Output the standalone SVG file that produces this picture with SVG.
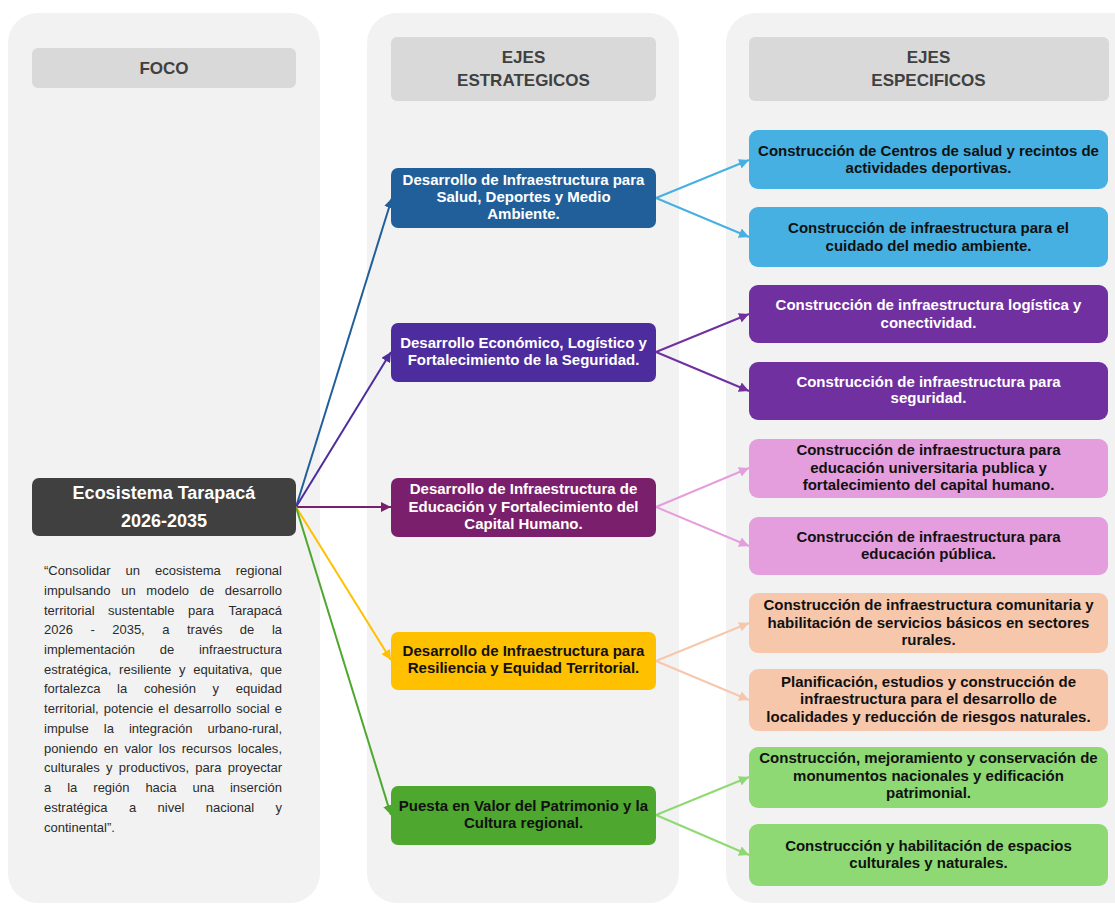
<svg xmlns="http://www.w3.org/2000/svg" width="1115" height="905" viewBox="0 0 1115 905">
<style>
.col{fill:#F2F2F2}
.hdr{fill:#D9D9D9}
.ht{font-family:"Liberation Sans",Arial,sans-serif;font-weight:bold;font-size:17px;fill:#404040;text-anchor:middle}
.bt{font-family:"Liberation Sans",Arial,sans-serif;font-weight:bold;font-size:15px;text-anchor:middle}
.w{fill:#FFFFFF}
.k{fill:#111111}
.p{font-family:"Liberation Sans",Arial,sans-serif;font-size:13px;fill:#2B2B2B}
.c{fill:none;stroke-width:2}
</style>
<defs>
<marker id="m1" viewBox="0 0 10 10" refX="10" refY="5" markerWidth="10" markerHeight="10" markerUnits="userSpaceOnUse" orient="auto"><path d="M0,0 L10,5 L0,10 z" fill="#215F9A"/></marker>
<marker id="m2" viewBox="0 0 10 10" refX="10" refY="5" markerWidth="10" markerHeight="10" markerUnits="userSpaceOnUse" orient="auto"><path d="M0,0 L10,5 L0,10 z" fill="#4D2C9E"/></marker>
<marker id="m3" viewBox="0 0 10 10" refX="10" refY="5" markerWidth="10" markerHeight="10" markerUnits="userSpaceOnUse" orient="auto"><path d="M0,0 L10,5 L0,10 z" fill="#7A1F6B"/></marker>
<marker id="m4" viewBox="0 0 10 10" refX="10" refY="5" markerWidth="10" markerHeight="10" markerUnits="userSpaceOnUse" orient="auto"><path d="M0,0 L10,5 L0,10 z" fill="#FFC000"/></marker>
<marker id="m5" viewBox="0 0 10 10" refX="10" refY="5" markerWidth="10" markerHeight="10" markerUnits="userSpaceOnUse" orient="auto"><path d="M0,0 L10,5 L0,10 z" fill="#4EA72E"/></marker>
<marker id="s1" viewBox="0 0 10 10" refX="10" refY="5" markerWidth="10" markerHeight="10" markerUnits="userSpaceOnUse" orient="auto"><path d="M0,0 L10,5 L0,10 z" fill="#45B0E1"/></marker>
<marker id="s2" viewBox="0 0 10 10" refX="10" refY="5" markerWidth="10" markerHeight="10" markerUnits="userSpaceOnUse" orient="auto"><path d="M0,0 L10,5 L0,10 z" fill="#7030A0"/></marker>
<marker id="s3" viewBox="0 0 10 10" refX="10" refY="5" markerWidth="10" markerHeight="10" markerUnits="userSpaceOnUse" orient="auto"><path d="M0,0 L10,5 L0,10 z" fill="#E59EDD"/></marker>
<marker id="s4" viewBox="0 0 10 10" refX="10" refY="5" markerWidth="10" markerHeight="10" markerUnits="userSpaceOnUse" orient="auto"><path d="M0,0 L10,5 L0,10 z" fill="#F7C7AC"/></marker>
<marker id="s5" viewBox="0 0 10 10" refX="10" refY="5" markerWidth="10" markerHeight="10" markerUnits="userSpaceOnUse" orient="auto"><path d="M0,0 L10,5 L0,10 z" fill="#8ED973"/></marker>
</defs>
<rect width="1115" height="905" fill="#FFFFFF"/>

<g id="columns">
<rect class="col" x="8" y="13" width="312" height="890" rx="30"/>
<rect class="col" x="367" y="13" width="312" height="890" rx="30"/>
<rect class="col" x="726" y="13" width="430" height="890" rx="30"/>
</g>

<g id="hdr-foco">
<rect class="hdr" x="32" y="48" width="264" height="40" rx="6"/>
<text class="ht" x="164" y="74">FOCO</text>
</g>
<g id="hdr-estrategicos">
<rect class="hdr" x="391" y="37" width="265" height="64" rx="6"/>
<text class="ht" x="523.5" y="63">EJES</text>
<text class="ht" x="523.5" y="86">ESTRATEGICOS</text>
</g>
<g id="hdr-especificos">
<rect class="hdr" x="749" y="37" width="360" height="64" rx="6"/>
<text class="ht" x="928.5" y="63">EJES</text>
<text class="ht" x="928.5" y="86">ESPECIFICOS</text>
</g>

<g id="connectors">
<line class="c" stroke="#215F9A" x1="296" y1="507" x2="392" y2="198" marker-end="url(#m1)"/>
<line class="c" stroke="#4D2C9E" x1="296" y1="507" x2="391" y2="352" marker-end="url(#m2)"/>
<line class="c" stroke="#7A1F6B" x1="296" y1="507" x2="391" y2="507" marker-end="url(#m3)"/>
<line class="c" stroke="#FFC000" x1="296" y1="507" x2="391" y2="660" marker-end="url(#m4)"/>
<line class="c" stroke="#4EA72E" x1="296" y1="507" x2="391" y2="815" marker-end="url(#m5)"/>
<line class="c" stroke="#45B0E1" x1="656" y1="198" x2="749" y2="160" marker-end="url(#s1)"/>
<line class="c" stroke="#45B0E1" x1="656" y1="198" x2="749" y2="237" marker-end="url(#s1)"/>
<line class="c" stroke="#7030A0" x1="656" y1="352" x2="749" y2="314" marker-end="url(#s2)"/>
<line class="c" stroke="#7030A0" x1="656" y1="352" x2="749" y2="391" marker-end="url(#s2)"/>
<line class="c" stroke="#E59EDD" x1="656" y1="507" x2="749" y2="468" marker-end="url(#s3)"/>
<line class="c" stroke="#E59EDD" x1="656" y1="507" x2="749" y2="546" marker-end="url(#s3)"/>
<line class="c" stroke="#F7C7AC" x1="656" y1="661" x2="749" y2="623" marker-end="url(#s4)"/>
<line class="c" stroke="#F7C7AC" x1="656" y1="661" x2="749" y2="700" marker-end="url(#s4)"/>
<line class="c" stroke="#8ED973" x1="656" y1="815" x2="749" y2="777" marker-end="url(#s5)"/>
<line class="c" stroke="#8ED973" x1="656" y1="815" x2="749" y2="855" marker-end="url(#s5)"/>
</g>

<g id="foco-node">
<rect x="32" y="478" width="264" height="58" rx="7" fill="#404040"/>
<text x="164" y="499" font-family="'Liberation Sans',Arial,sans-serif" font-weight="bold" font-size="18" fill="#FFFFFF" text-anchor="middle">Ecosistema Tarapacá</text>
<text x="164" y="527" font-family="'Liberation Sans',Arial,sans-serif" font-weight="bold" font-size="18" fill="#FFFFFF" text-anchor="middle">2026-2035</text>
</g>

<g id="foco-text" class="p">
<text y="575"><tspan x="44">“Consolidar</tspan><tspan x="125.5">un</tspan><tspan x="155">ecosistema</tspan><tspan x="282" text-anchor="end">regional</tspan></text>
<text y="594.7" x="44" word-spacing="7" textLength="238" lengthAdjust="spacing">impulsando un modelo de desarrollo</text>
<text y="614.5"><tspan x="44">territorial</tspan><tspan x="108">sustentable</tspan><tspan x="188">para</tspan><tspan x="282" text-anchor="end">Tarapacá</tspan></text>
<text y="634.2"><tspan x="44">2026</tspan><tspan x="90.4">-</tspan><tspan x="112.2">2035,</tspan><tspan x="162.2">a</tspan><tspan x="187">través</tspan><tspan x="239.8">de</tspan><tspan x="282" text-anchor="end">la</tspan></text>
<text y="654"><tspan x="44">implementación</tspan><tspan x="159.7">de</tspan><tspan x="282" text-anchor="end">infraestructura</tspan></text>
<text y="673.7" x="44" word-spacing="4" textLength="238" lengthAdjust="spacing">estratégica, resiliente y equitativa, que</text>
<text y="693.4"><tspan x="44">fortalezca</tspan><tspan x="117.1">la</tspan><tspan x="143.9">cohesión</tspan><tspan x="212.6">y</tspan><tspan x="282" text-anchor="end">equidad</tspan></text>
<text y="713.2" x="44" word-spacing="1.4" textLength="238" lengthAdjust="spacing">territorial, potencie el desarrollo social e</text>
<text y="732.9"><tspan x="44">impulse</tspan><tspan x="103.8">la</tspan><tspan x="128.9">integración</tspan><tspan x="282" text-anchor="end">urbano-rural,</tspan></text>
<text y="752.6" x="44" word-spacing="2.5" textLength="238" lengthAdjust="spacing">poniendo en valor los recursos locales,</text>
<text y="772.4" x="44" word-spacing="2.6" textLength="238" lengthAdjust="spacing">culturales y productivos, para proyectar</text>
<text y="792.1"><tspan x="44">a</tspan><tspan x="67.2">la</tspan><tspan x="93.3">región</tspan><tspan x="145.4">hacia</tspan><tspan x="192.5">una</tspan><tspan x="282" text-anchor="end">inserción</tspan></text>
<text y="811.9"><tspan x="44">estratégica</tspan><tspan x="129">a</tspan><tspan x="157.6">nivel</tspan><tspan x="205.7">nacional</tspan><tspan x="282" text-anchor="end">y</tspan></text>
<text y="831.6" x="44">continental”.</text>
</g>

<g id="eje-1">
<rect x="391" y="168" width="265" height="60" rx="7" fill="#215F9A"/>
<text class="bt w" x="523.5" y="185">Desarrollo de Infraestructura para</text>
<text class="bt w" x="523.5" y="202">Salud, Deportes y Medio</text>
<text class="bt w" x="523.5" y="219">Ambiente.</text>
</g>
<g id="eje-2">
<rect x="391" y="323" width="265" height="59" rx="7" fill="#4D2C9E"/>
<text class="bt w" x="523.5" y="348">Desarrollo Económico, Logístico y</text>
<text class="bt w" x="523.5" y="365">Fortalecimiento de la Seguridad.</text>
</g>
<g id="eje-3">
<rect x="391" y="478" width="265" height="59" rx="7" fill="#7A1F6B"/>
<text class="bt w" x="523.5" y="494">Desarrollo de Infraestructura de</text>
<text class="bt w" x="523.5" y="512">Educación y Fortalecimiento del</text>
<text class="bt w" x="523.5" y="529">Capital Humano.</text>
</g>
<g id="eje-4">
<rect x="391" y="632" width="265" height="58" rx="7" fill="#FFC000"/>
<text class="bt k" x="523.5" y="656">Desarrollo de Infraestructura para</text>
<text class="bt k" x="523.5" y="673">Resiliencia y Equidad Territorial.</text>
</g>
<g id="eje-5">
<rect x="391" y="786" width="265" height="59" rx="7" fill="#4EA72E"/>
<text class="bt k" x="523.5" y="811">Puesta en Valor del Patrimonio y la</text>
<text class="bt k" x="523.5" y="828">Cultura regional.</text>
</g>

<g id="esp-1">
<rect x="749" y="130" width="359" height="59" rx="9" fill="#45B0E1"/>
<text class="bt k" x="928.5" y="156">Construcción de Centros de salud y recintos de</text>
<text class="bt k" x="928.5" y="173">actividades deportivas.</text>
</g>
<g id="esp-2">
<rect x="749" y="207" width="359" height="60" rx="9" fill="#45B0E1"/>
<text class="bt k" x="928.5" y="233">Construcción de infraestructura para el</text>
<text class="bt k" x="928.5" y="251">cuidado del medio ambiente.</text>
</g>
<g id="esp-3">
<rect x="749" y="285" width="359" height="58" rx="9" fill="#7030A0"/>
<text class="bt w" x="928.5" y="310">Construcción de infraestructura logística y</text>
<text class="bt w" x="928.5" y="328">conectividad.</text>
</g>
<g id="esp-4">
<rect x="749" y="362" width="359" height="58" rx="9" fill="#7030A0"/>
<text class="bt w" x="928.5" y="387">Construcción de infraestructura para</text>
<text class="bt w" x="928.5" y="403">seguridad.</text>
</g>
<g id="esp-5">
<rect x="749" y="439" width="359" height="59" rx="9" fill="#E59EDD"/>
<text class="bt k" x="928.5" y="455">Construcción de infraestructura para</text>
<text class="bt k" x="928.5" y="473">educación universitaria publica y</text>
<text class="bt k" x="928.5" y="490">fortalecimiento del capital humano.</text>
</g>
<g id="esp-6">
<rect x="749" y="517" width="359" height="58" rx="9" fill="#E59EDD"/>
<text class="bt k" x="928.5" y="542">Construcción de infraestructura para</text>
<text class="bt k" x="928.5" y="559">educación pública.</text>
</g>
<g id="esp-7">
<rect x="749" y="593" width="359" height="60" rx="9" fill="#F7C7AC"/>
<text class="bt k" x="928.5" y="610">Construcción de infraestructura comunitaria y</text>
<text class="bt k" x="928.5" y="628">habilitación de servicios básicos en sectores</text>
<text class="bt k" x="928.5" y="645">rurales.</text>
</g>
<g id="esp-8">
<rect x="749" y="669" width="359" height="62" rx="9" fill="#F7C7AC"/>
<text class="bt k" x="928.5" y="687">Planificación, estudios y construcción de</text>
<text class="bt k" x="928.5" y="704">infraestructura para el desarrollo de</text>
<text class="bt k" x="928.5" y="722">localidades y reducción de riesgos naturales.</text>
</g>
<g id="esp-9">
<rect x="749" y="747" width="359" height="61" rx="9" fill="#8ED973"/>
<text class="bt k" x="928.5" y="763">Construcción, mejoramiento y conservación de</text>
<text class="bt k" x="928.5" y="781">monumentos nacionales y edificación</text>
<text class="bt k" x="928.5" y="798">patrimonial.</text>
</g>
<g id="esp-10">
<rect x="749" y="824" width="359" height="62" rx="9" fill="#8ED973"/>
<text class="bt k" x="928.5" y="851">Construcción y habilitación de espacios</text>
<text class="bt k" x="928.5" y="868">culturales y naturales.</text>
</g>
</svg>
